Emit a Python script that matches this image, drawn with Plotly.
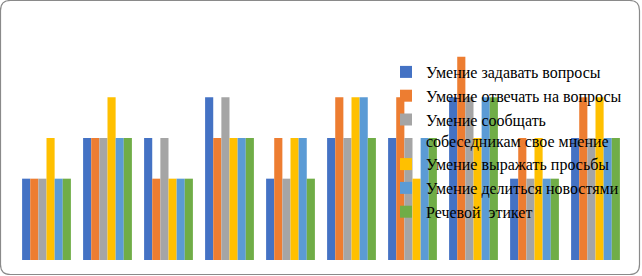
import plotly.graph_objects as go

categories = ["1", "2", "3", "4", "5", "6", "7", "8", "9", "10"]
series_names = [
    "Умение задавать вопросы",
    "Умение отвечать на вопросы",
    "Умение сообщать<br>собеседникам свое мнение",
    "Умение выражать просьбы",
    "Умение делиться новостями",
    "Речевой\u00a0 этикет",
]
ask_questions = [2, 3, 3, 4, 2, 3, 3, 4, 2, 3]
answer_questions = [2, 3, 2, 3, 3, 4, 4, 5, 3, 4]
share_opinion = [2, 3, 3, 4, 2, 3, 3, 4, 2, 3]
express_requests = [3, 4, 2, 3, 3, 4, 2, 3, 3, 4]
share_news = [2, 3, 2, 3, 3, 4, 3, 4, 2, 3]
speech_etiquette = [2, 3, 2, 3, 2, 3, 3, 4, 2, 3]
series_values = [ask_questions, answer_questions, share_opinion,
                 express_requests, share_news, speech_etiquette]
colors = ["#4472C4", "#ED7D31", "#A5A5A5", "#FFC000", "#5B9BD5", "#70AD47"]

W, H = 642, 276
ML, MR, MT, MB = 16, 16, 16, 16
PW, PH = W - ML - MR, H - MT - MB


def px(x):
    return (x - ML) / PW


def py(y):
    return (H - MB - y) / PH


fig = go.Figure()
for name, vals, col in zip(series_names, series_values, colors):
    fig.add_trace(go.Bar(x=categories, y=vals, name=name, marker_color=col,
                         marker_line_width=0))

# rounded border
x0, y0, x1, y1, r = 0.5, 0.5, 639.5, 274.5, 10
path = (f"M {px(x0 + r)},{py(y0)} L {px(x1 - r)},{py(y0)} "
        f"Q {px(x1)},{py(y0)} {px(x1)},{py(y0 + r)} "
        f"L {px(x1)},{py(y1 - r)} Q {px(x1)},{py(y1)} {px(x1 - r)},{py(y1)} "
        f"L {px(x0 + r)},{py(y1)} Q {px(x0)},{py(y1)} {px(x0)},{py(y1 - r)} "
        f"L {px(x0)},{py(y0 + r)} Q {px(x0)},{py(y0)} {px(x0 + r)},{py(y0)} Z")

fig.update_layout(
    width=W, height=H,
    margin=dict(l=ML, r=MR, t=MT, b=MB),
    paper_bgcolor="white", plot_bgcolor="white",
    barmode="group", bargap=0.2, bargroupgap=0,
    xaxis=dict(visible=False, range=[-0.5, 9.5]),
    yaxis=dict(visible=False, range=[0, 6]),
    showlegend=True,
    legend=dict(x=px(386), y=py(55), xanchor="left", yanchor="top",
                bgcolor="rgba(0,0,0,0)", valign="top",
                font=dict(family="Times New Roman, Liberation Serif", size=16, color="black"),
                itemwidth=30, tracegroupgap=0),
    shapes=[dict(type="path", xref="paper", yref="paper", path=path,
                 line=dict(color="#8a8a8a", width=1.2), fillcolor="rgba(0,0,0,0)",
                 layer="above")],
)

fig.write_html("out.html", config={"displayModeBar": False},
               post_script="document.body.style.margin='0';document.body.style.overflow='hidden';")
